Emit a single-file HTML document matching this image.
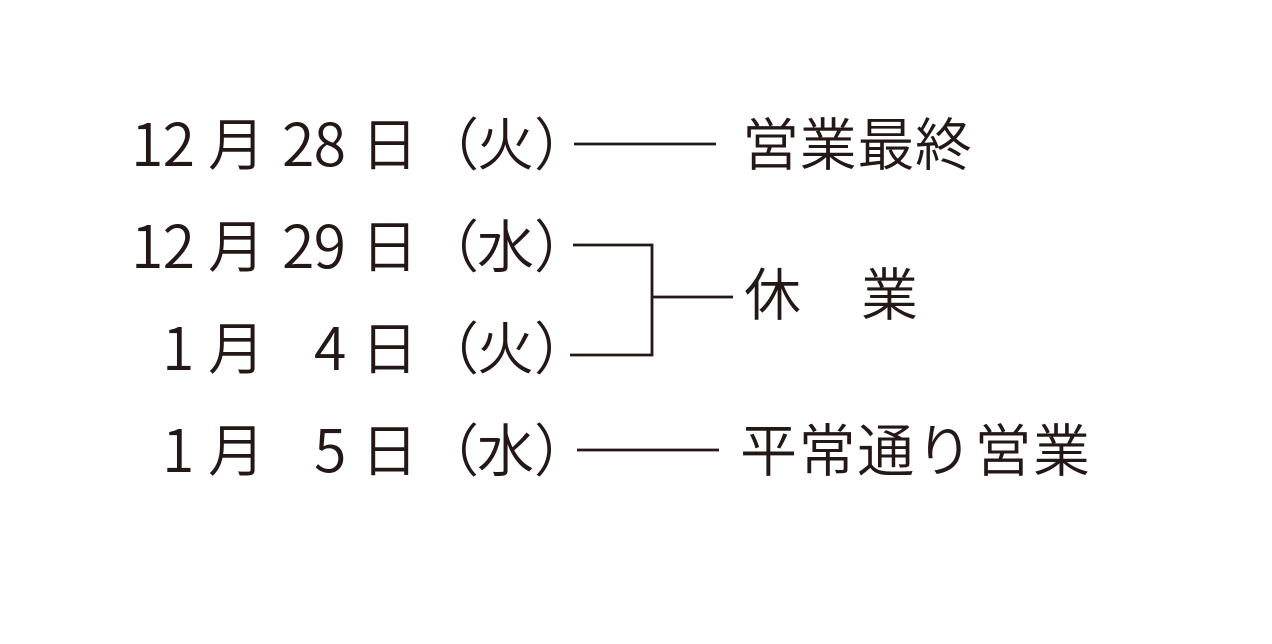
<!DOCTYPE html>
<html lang="ja">
<head>
<meta charset="utf-8">
<style>
html,body{margin:0;padding:0;background:#fff;width:1272px;height:644px;overflow:hidden}
svg{display:block}
text{fill:#231815}
.l{font-family:"Noto Sans CJK JP",sans-serif;font-size:59px;font-weight:350;letter-spacing:-0.8px}
.j{font-family:"Noto Sans CJK JP",sans-serif;font-weight:350;font-size:57px}
</style>
</head>
<body>
<svg width="1272" height="644" viewBox="0 0 1272 644" xmlns="http://www.w3.org/2000/svg">
<g>
<text class="l" x="131" y="166">12</text><text class="j" x="208" y="165">月</text><text class="l" x="282" y="166">28</text><text class="j" x="361" y="165">日</text><text class="j" x="422" y="165">（</text><text class="j" x="477" y="165">火</text><text class="j" x="534" y="165">）</text>
<text class="l" x="131" y="268">12</text><text class="j" x="208" y="267">月</text><text class="l" x="282" y="268">29</text><text class="j" x="361" y="267">日</text><text class="j" x="422" y="267">（</text><text class="j" x="477" y="267">水</text><text class="j" x="534" y="267">）</text>
<text class="l" x="162" y="370">1</text><text class="j" x="208" y="369">月</text><text class="l" x="314" y="370">4</text><text class="j" x="361" y="369">日</text><text class="j" x="422" y="369">（</text><text class="j" x="477" y="369">火</text><text class="j" x="534" y="369">）</text>
<text class="l" x="162" y="472">1</text><text class="j" x="208" y="471">月</text><text class="l" x="314" y="472">5</text><text class="j" x="361" y="471">日</text><text class="j" x="422" y="471">（</text><text class="j" x="477" y="471">水</text><text class="j" x="534" y="471">）</text>
</g>
<g fill="none" stroke="#231815" stroke-width="2.8">
<path d="M574 144H716"/>
<path d="M573 245H652V355H570"/>
<path d="M652 297H733"/>
<path d="M577 450H719"/>
</g>
<text class="j" x="742" y="165" textLength="230" lengthAdjust="spacing">営業最終</text>
<text class="j" x="744" y="315">休</text>
<text class="j" x="861" y="315">業</text>
<text class="j" x="740" y="471" textLength="350" lengthAdjust="spacing">平常通り営業</text>
</svg>
</body>
</html>
